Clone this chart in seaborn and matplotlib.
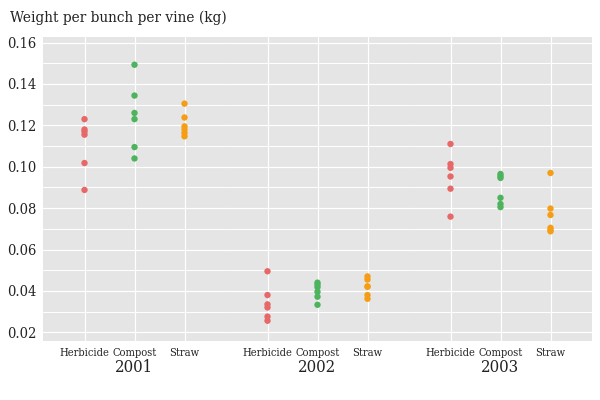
import matplotlib
matplotlib.use("Agg")
import matplotlib.pyplot as plt
from matplotlib.ticker import MultipleLocator, FormatStrFormatter
import seaborn as sns
import pandas as pd

years = ["2001", "2002", "2003"]
treatments = ["Herbicide", "Compost", "Straw"]

herbicide_2001 = [0.1230, 0.1180, 0.1170, 0.1155, 0.1018, 0.0888]
compost_2001 = [0.1493, 0.1344, 0.1260, 0.1230, 0.1095, 0.1040]
straw_2001 = [0.1305, 0.1238, 0.1195, 0.1180, 0.1163, 0.1147]

herbicide_2002 = [0.0495, 0.0380, 0.0335, 0.0320, 0.0276, 0.0256]
compost_2002 = [0.0440, 0.0430, 0.0418, 0.0396, 0.0372, 0.0333]
straw_2002 = [0.0470, 0.0455, 0.0422, 0.0420, 0.0380, 0.0362]

herbicide_2003 = [0.1110, 0.1013, 0.0995, 0.0953, 0.0894, 0.0759]
compost_2003 = [0.0965, 0.0955, 0.0946, 0.0850, 0.0820, 0.0805]
straw_2003 = [0.0970, 0.0798, 0.0767, 0.0705, 0.0695, 0.0688]

colors = ["#E76868", "#4DB35C", "#F59D15"]

series = {
    ("2001", "Herbicide"): herbicide_2001, ("2001", "Compost"): compost_2001, ("2001", "Straw"): straw_2001,
    ("2002", "Herbicide"): herbicide_2002, ("2002", "Compost"): compost_2002, ("2002", "Straw"): straw_2002,
    ("2003", "Herbicide"): herbicide_2003, ("2003", "Compost"): compost_2003, ("2003", "Straw"): straw_2003,
}
rows = []
for (yr, tr), vals in series.items():
    for v in vals:
        rows.append({"year": yr, "treatment": tr, "weight": v})
df = pd.DataFrame(rows)

sns.set_theme(style="darkgrid")
font = "DejaVu Serif"
plt.rcParams["font.family"] = [font]
plt.rcParams["font.stretch"] = "condensed"

fig = plt.figure(figsize=(6, 4), dpi=100)
left, right, bottom, top = 43 / 600, 592 / 600, 1 - 341 / 400, 1 - 37 / 400
w = (right - left) / 3
bg = "#E5E5E5"
for i, yr in enumerate(years):
    ax = fig.add_axes([left + i * w, bottom, w, top - bottom])
    ax.set_facecolor(bg)
    sub = df[df["year"] == yr]
    sns.stripplot(data=sub, x="treatment", y="weight", hue="treatment", order=treatments,
                  hue_order=treatments, palette=colors, jitter=False, size=4.6,
                  linewidth=0, legend=False, ax=ax, zorder=3)
    ax.set_xlim(-0.83, 2.83)
    ax.set_ylim(0.0158, 0.1627)
    ax.yaxis.set_major_locator(MultipleLocator(0.02))
    ax.yaxis.set_minor_locator(MultipleLocator(0.01))
    ax.yaxis.set_major_formatter(FormatStrFormatter("%.2f"))
    ax.grid(which="major", color="white", linewidth=0.85)
    ax.grid(which="minor", axis="y", color="white", linewidth=0.7)
    for s in ax.spines.values():
        s.set_visible(False)
    ax.set_ylabel("")
    ax.set_xlabel(yr, fontsize=12, color="#222222", labelpad=1)
    ax.tick_params(axis="x", labelsize=7.9, length=2, width=0.6, color="#777777",
                   pad=3, labelcolor="#222222")
    ax.tick_params(axis="y", which="major", labelsize=10.5, length=3, width=0.6,
                   color="#777777", pad=2, labelcolor="#222222")
    ax.tick_params(axis="y", which="minor", length=0)
    if i > 0:
        ax.tick_params(axis="y", which="both", left=False, labelleft=False)

fig.text(10 / 600, 1 - 18 / 400, "Weight per bunch per vine (kg)", fontsize=11,
         color="#222222", ha="left", va="center")
fig.savefig("out.png", dpi=100, facecolor="white")
